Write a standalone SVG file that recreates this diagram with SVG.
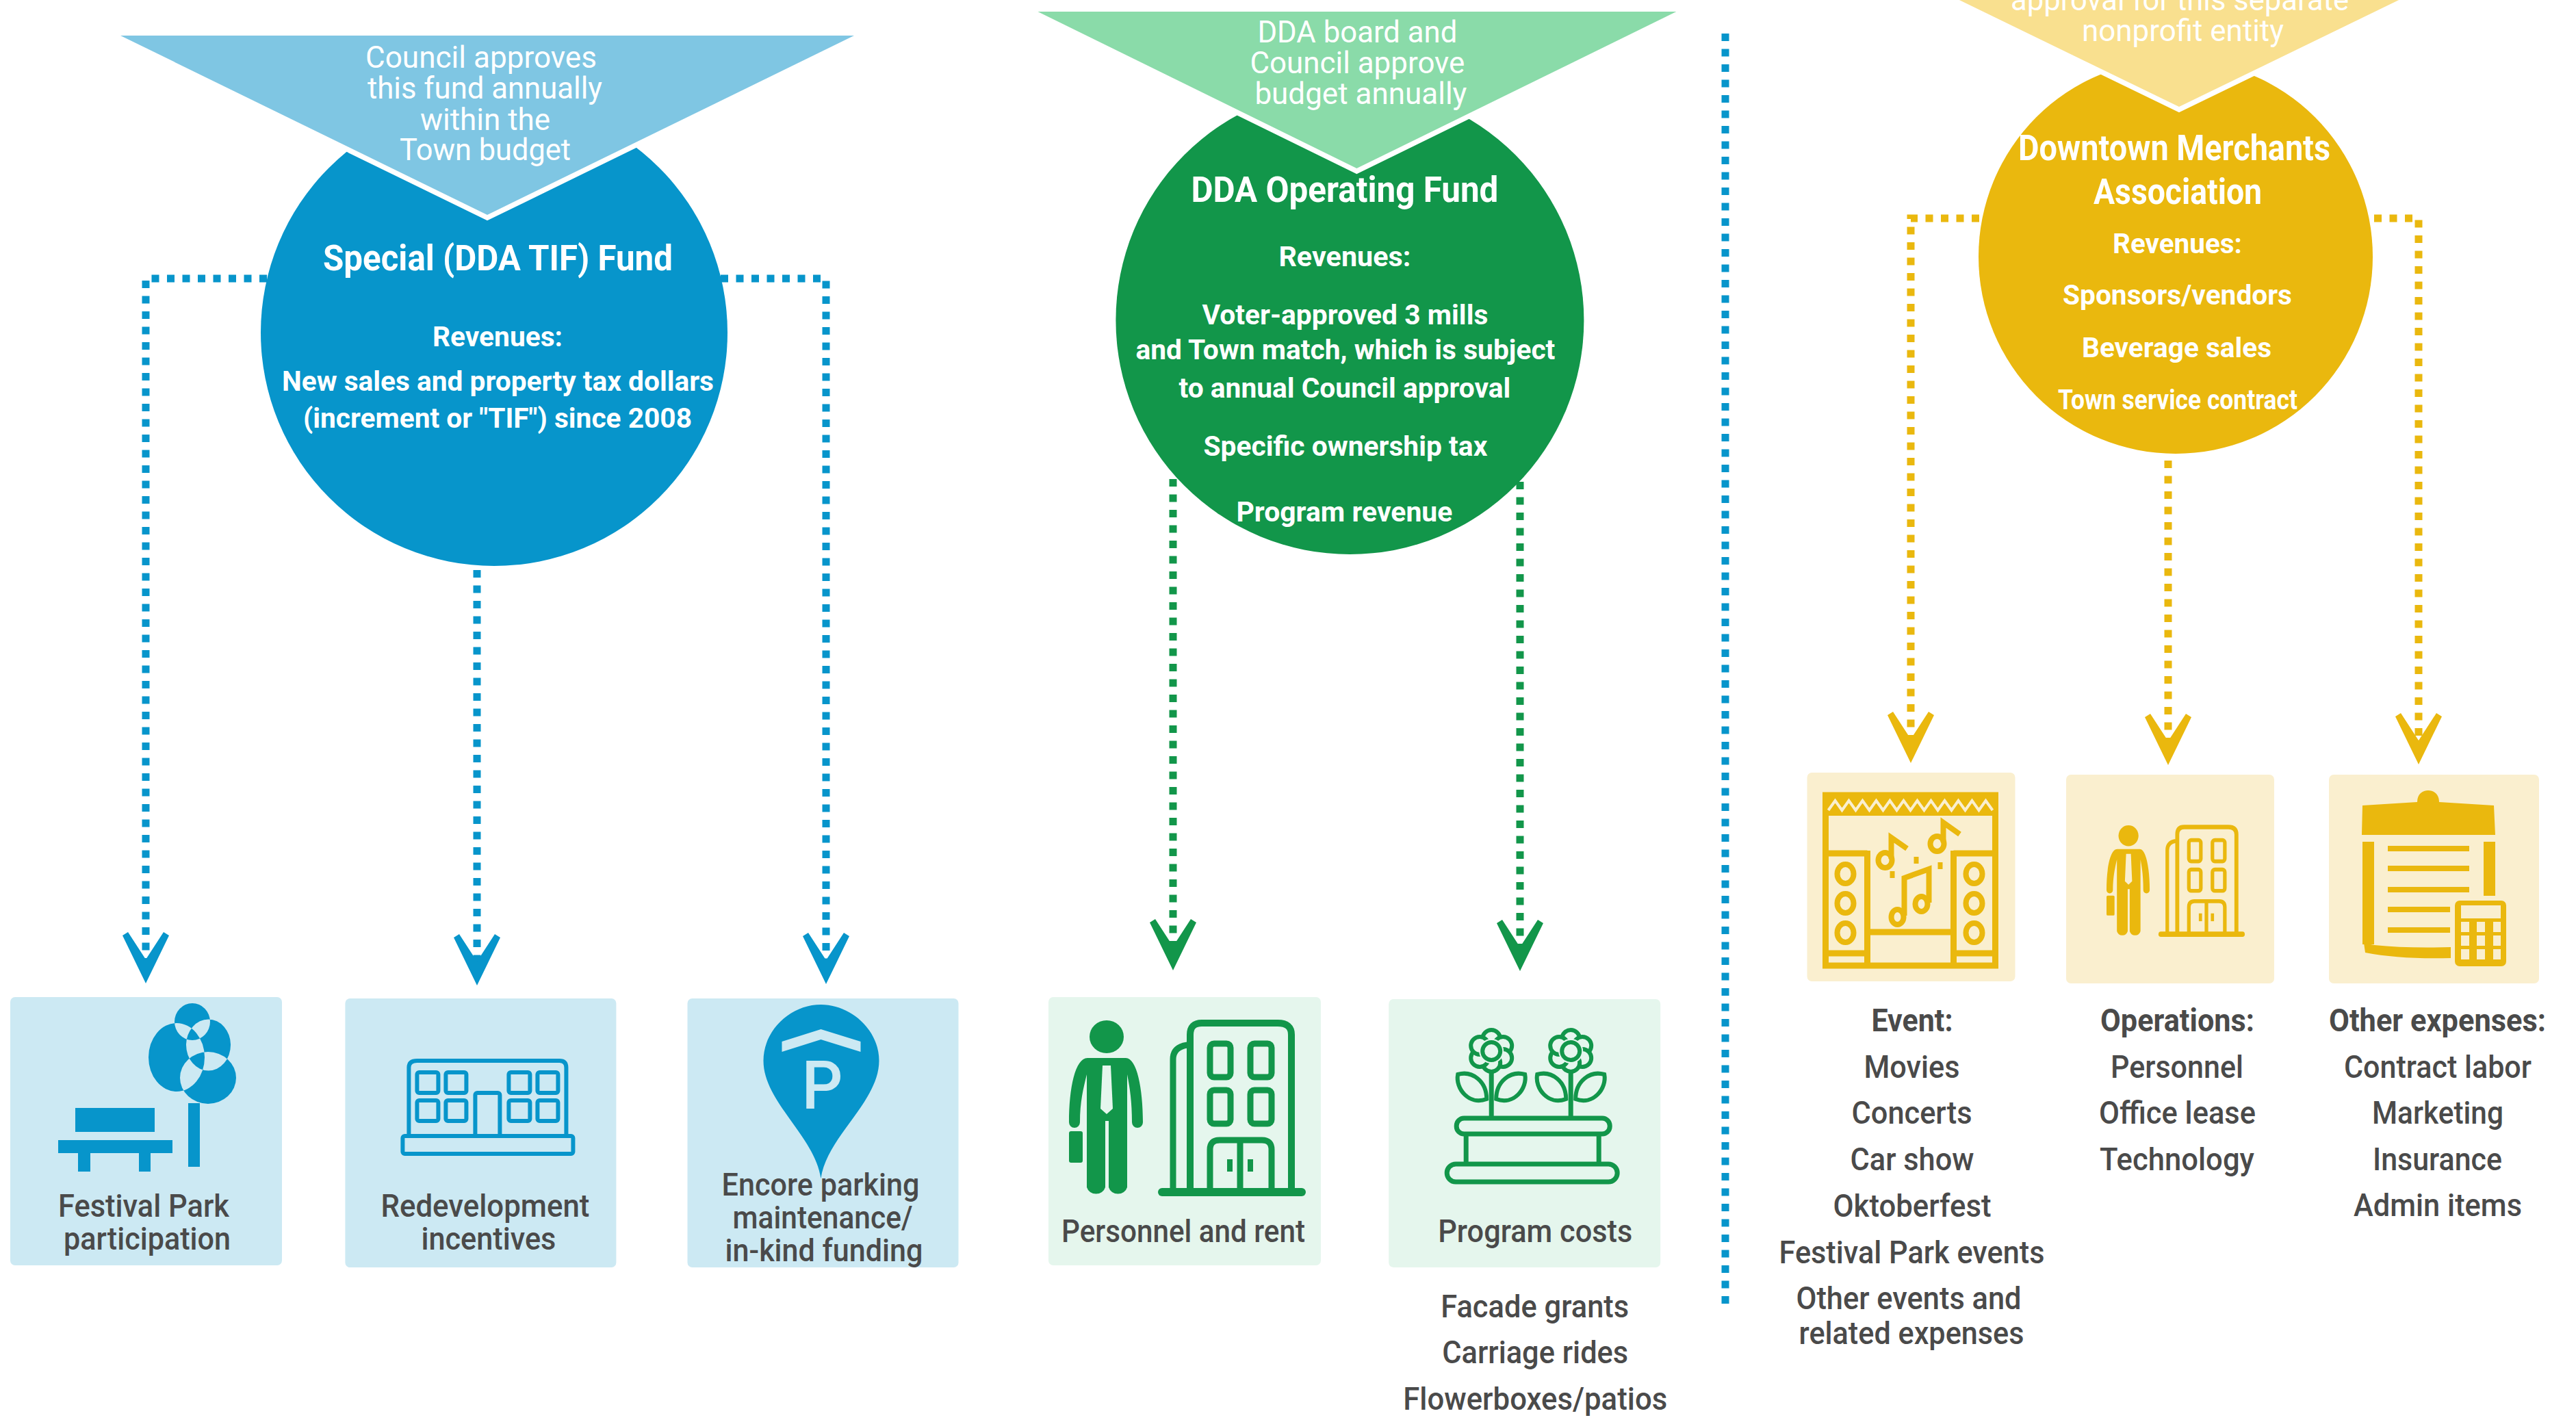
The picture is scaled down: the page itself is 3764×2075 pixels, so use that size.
<svg xmlns="http://www.w3.org/2000/svg" xmlns:xlink="http://www.w3.org/1999/xlink" width="3764" height="2075" viewBox="0 0 3764 2075">
<style>
text{font-family:Roboto,"Liberation Sans",sans-serif;}
.w{fill:#fff;font-size:44px;}
.h{fill:#fff;font-size:51px;font-weight:700;}
.r{fill:#fff;font-size:41px;font-weight:700;}
.d{fill:#4a4a4a;font-size:46px;font-weight:500;}
.b{fill:#4a4a4a;font-size:46px;font-weight:700;}
.c{fill:none;stroke-width:11;stroke-dasharray:11 11.5;}
.blue{stroke:#0795CB;}
.green{stroke:#12964A;}
.gold{stroke:#EAB80E;}
.tri{stroke:#fff;stroke-width:15;paint-order:stroke;stroke-linejoin:miter;stroke-miterlimit:10;}
.ln{fill:none;stroke:currentColor;}
.fl{fill:currentColor;}
</style>
<defs>
<marker id="ah-blue" markerUnits="userSpaceOnUse" markerWidth="110" markerHeight="100" viewBox="-80 -50 110 100" refX="0" refY="0" orient="auto"><polygon points="22,0 -48,-34 -53,-26 -13,0 -53,26 -48,34" fill="#0795CB"/></marker>
<marker id="ah-green" markerUnits="userSpaceOnUse" markerWidth="110" markerHeight="100" viewBox="-80 -50 110 100" refX="0" refY="0" orient="auto"><polygon points="22,0 -48,-34 -53,-26 -13,0 -53,26 -48,34" fill="#12964A"/></marker>
<marker id="ah-gold" markerUnits="userSpaceOnUse" markerWidth="110" markerHeight="100" viewBox="-80 -50 110 100" refX="0" refY="0" orient="auto"><polygon points="22,0 -48,-34 -53,-26 -13,0 -53,26 -48,34" fill="#EAB80E"/></marker>
<g id="person-office">
<ellipse class="fl" cx="1618" cy="1515" rx="25" ry="24"/>
<path class="fl" d="M1590 1546H1646C1662 1546 1671 1590 1671 1640a8 8 0 0 1-16 0C1655 1610 1652 1590 1648 1570V1735a14 13 0 0 1-27 0V1638H1616V1735a14 13 0 0 1-27 0V1570C1584 1590 1579 1610 1579 1640a8 8 0 0 1-16 0C1563 1590 1572 1546 1590 1546Z"/>
<polygon points="1612,1557 1624,1557 1627,1620 1618,1628 1609,1620" style="fill:var(--bg)"/>
<rect class="fl" x="1563" y="1653" width="20" height="46" rx="3"/>
<path class="ln" stroke-width="10" d="M1740 1740V1512Q1740 1495 1757 1495H1868Q1888 1495 1888 1512V1740"/>
<path class="ln" stroke-width="9" d="M1715 1740V1548Q1715 1530 1736 1527"/>
<g class="ln" stroke-width="9"><rect x="1769" y="1525" width="30" height="49" rx="6"/><rect x="1828" y="1525" width="31" height="49" rx="6"/><rect x="1769" y="1593" width="30" height="49" rx="6"/><rect x="1828" y="1593" width="31" height="49" rx="6"/><path d="M1769 1740V1680Q1769 1666 1783 1666H1845Q1859 1666 1859 1680V1740M1813 1666V1740"/></g>
<rect class="fl" x="1794" y="1694" width="8" height="18"/><rect class="fl" x="1824" y="1694" width="8" height="18"/>
<rect class="fl" x="1693" y="1736" width="216" height="12" rx="6"/>
</g>
<g id="flower" fill="#E5F6ED" stroke="#12964A" stroke-width="6">
<path fill="none" stroke-width="7" d="M2183 1560V1631"/>
<path d="M2176 1606C2150 1616 2130 1590 2134 1570C2155 1564 2176 1580 2176 1606Z"/>
<path d="M2190 1606C2216 1616 2236 1590 2232 1570C2211 1564 2190 1580 2190 1606Z"/>
<circle cx="2183" cy="1518" r="13"/><circle cx="2200" cy="1528" r="13"/><circle cx="2200" cy="1546" r="13"/><circle cx="2183" cy="1553" r="13"/><circle cx="2166" cy="1546" r="13"/><circle cx="2166" cy="1528" r="13"/>
<circle cx="2183" cy="1536" r="18" stroke="none"/><circle cx="2183" cy="1536" r="13"/>
</g>
</defs>
<rect width="3764" height="2075" fill="#fff"/>

<g id="connectors">
<path class="c blue" marker-end="url(#ah-blue)" d="M390 407H213V1415"/>
<path class="c blue" d="M697 833V1418" marker-end="url(#ah-blue)"/>
<path class="c blue" marker-end="url(#ah-blue)" d="M1053 407H1207V1416"/>
<path class="c green" d="M1714 700V1396" marker-end="url(#ah-green)"/>
<path class="c green" d="M2221 704V1397" marker-end="url(#ah-green)"/>
<path class="c gold" marker-end="url(#ah-gold)" d="M2892 319H2792V1093"/>
<path class="c gold" d="M3168 673V1096" marker-end="url(#ah-gold)"/>
<path class="c gold" marker-end="url(#ah-gold)" d="M3469 319H3534V1095"/>
<path id="divider" class="c blue" d="M2521 49V1908"/>
</g>

<g id="special-fund" transform="translate(-3 0)">
<circle cx="725" cy="486" r="341" fill="#0795CB"/>
<polygon class="tri" points="179,52 1251,52 715,314" fill="#7FC6E3"/>
<text class="w" x="537" y="99" textLength="338" lengthAdjust="spacingAndGlyphs">Council approves</text>
<text class="w" x="540" y="144" textLength="343" lengthAdjust="spacingAndGlyphs">this fund annually</text>
<text class="w" x="617" y="190" textLength="190" lengthAdjust="spacingAndGlyphs">within the</text>
<text class="w" x="587" y="234" textLength="250" lengthAdjust="spacingAndGlyphs">Town budget</text>
<text class="h" x="475" y="395" textLength="511" lengthAdjust="spacingAndGlyphs">Special (DDA TIF) Fund</text>
<text class="r" x="635" y="506" textLength="190" lengthAdjust="spacingAndGlyphs">Revenues:</text>
<text class="r" x="415" y="571" textLength="631" lengthAdjust="spacingAndGlyphs">New sales and property tax dollars</text>
<text class="r" x="446" y="625" textLength="568" lengthAdjust="spacingAndGlyphs">(increment or "TIF") since 2008</text>
</g>

<g id="festival-park" transform="translate(-1 0)">
<rect x="16" y="1457" width="397" height="392" rx="7" fill="#CCE9F3"/>
<g fill="#0795CB">
<path fill-rule="evenodd" d="M256 1493a26 27 0 1 0 52 0a26 27 0 1 0-52 0ZM218 1545a41 50 0 1 0 82 0a41 50 0 1 0-82 0ZM273 1527a32 37 0 1 0 65 0a32 37 0 1 0-65 0ZM264 1575a41 38 0 1 0 82 0a41 38 0 1 0-82 0Z"/>
<rect x="276" y="1612" width="17" height="93"/>
<rect x="111" y="1619" width="116" height="35"/>
<rect x="86" y="1666" width="167" height="19"/>
<rect x="115" y="1685" width="18" height="27"/>
<rect x="204" y="1685" width="17" height="27"/>
</g>
<text class="d" x="86" y="1778" textLength="250" lengthAdjust="spacingAndGlyphs">Festival Park</text>
<text class="d" x="94" y="1826" textLength="244" lengthAdjust="spacingAndGlyphs">participation</text>
</g>

<g id="redevelopment" transform="translate(-2.6 0)">
<rect x="507" y="1459" width="396" height="393" rx="7" fill="#CCE9F3"/>
<g fill="none" stroke="#0795CB" stroke-width="6">
<path d="M600 1660V1560Q600 1550 612 1550H820Q830 1550 830 1560V1660"/>
<rect x="591" y="1660" width="249" height="26" rx="3"/>
<rect x="697" y="1597" width="36" height="63" rx="3"/>
<rect x="612" y="1567" width="31" height="30" rx="3"/><rect x="654" y="1567" width="30" height="30" rx="3"/><rect x="746" y="1567" width="31" height="30" rx="3"/><rect x="788" y="1567" width="30" height="30" rx="3"/>
<rect x="612" y="1608" width="31" height="30" rx="3"/><rect x="654" y="1608" width="30" height="30" rx="3"/><rect x="746" y="1608" width="31" height="30" rx="3"/><rect x="788" y="1608" width="30" height="30" rx="3"/>
</g>
<text class="d" x="559" y="1778" textLength="305" lengthAdjust="spacingAndGlyphs">Redevelopment</text>
<text class="d" x="618" y="1826" textLength="197" lengthAdjust="spacingAndGlyphs">incentives</text>
</g>

<g id="encore-parking" transform="translate(-4.5 0)">
<rect x="1009" y="1459" width="396" height="393" rx="7" fill="#CCE9F3"/>
<path d="M1204 1722C1195 1660 1120 1610 1120 1550C1120 1505 1160 1468 1204 1468C1248 1468 1289 1505 1289 1550C1289 1610 1213 1660 1204 1722Z" fill="#0795CB"/>
<polygon points="1147,1522 1204,1504 1262,1522 1262,1537 1204,1519 1147,1537" fill="#CCE9F3"/>
<text x="1176" y="1620" font-size="98" font-weight="500" fill="#CCE9F3" textLength="60" lengthAdjust="spacingAndGlyphs">P</text>
<text class="d" x="1059" y="1747" textLength="289" lengthAdjust="spacingAndGlyphs">Encore parking</text>
<text class="d" x="1075" y="1795" textLength="263" lengthAdjust="spacingAndGlyphs">maintenance/</text>
<text class="d" x="1064" y="1843" textLength="289" lengthAdjust="spacingAndGlyphs">in-kind funding</text>
</g>

<g id="operating-fund" transform="translate(-2.6 0)">
<circle cx="1975" cy="468" r="342" fill="#12964A"/>
<polygon class="tri" points="1519,17 2452,17 1985,246" fill="#8ADBA9"/>
<text class="w" x="1840" y="62" textLength="292" lengthAdjust="spacingAndGlyphs">DDA board and</text>
<text class="w" x="1829" y="107" textLength="314" lengthAdjust="spacingAndGlyphs">Council approve</text>
<text class="w" x="1836" y="152" textLength="310" lengthAdjust="spacingAndGlyphs">budget annually</text>
<text class="h" x="1743" y="295" textLength="449" lengthAdjust="spacingAndGlyphs">DDA Operating Fund</text>
<text class="r" x="1871" y="389" textLength="193" lengthAdjust="spacingAndGlyphs">Revenues:</text>
<text class="r" x="1759" y="474" textLength="418" lengthAdjust="spacingAndGlyphs">Voter-approved 3 mills</text>
<text class="r" x="1662" y="525" textLength="613" lengthAdjust="spacingAndGlyphs">and Town match, which is subject</text>
<text class="r" x="1725" y="581" textLength="485" lengthAdjust="spacingAndGlyphs">to annual Council approval</text>
<text class="r" x="1761" y="666" textLength="415" lengthAdjust="spacingAndGlyphs">Specific ownership tax</text>
<text class="r" x="1809" y="762" textLength="316" lengthAdjust="spacingAndGlyphs">Program revenue</text>
</g>

<g id="personnel-rent" transform="translate(-1 0)">
<rect x="1533" y="1457" width="398" height="392" rx="7" fill="#E5F6ED"/>
<use xlink:href="#person-office" href="#person-office" style="color:#12964A;--bg:#E5F6ED"/>
<text class="d" x="1552" y="1815" textLength="356" lengthAdjust="spacingAndGlyphs">Personnel and rent</text>
</g>

<g id="program-costs" transform="translate(-3.8 0)">
<rect x="2033" y="1460" width="397" height="392" rx="7" fill="#E5F6ED"/>
<use xlink:href="#flower" href="#flower"/>
<use xlink:href="#flower" href="#flower" x="116"/>
<g fill="none" stroke="#12964A" stroke-width="7">
<rect x="2132" y="1634" width="224" height="23" rx="11"/>
<path d="M2146 1657V1698M2340 1657V1698"/>
<rect x="2118" y="1701" width="249" height="26" rx="13"/>
</g>
<text class="d" x="2105" y="1815" textLength="284" lengthAdjust="spacingAndGlyphs">Program costs</text>
<text class="d" x="2109" y="1925" textLength="275" lengthAdjust="spacingAndGlyphs">Facade grants</text>
<text class="d" x="2111" y="1992" textLength="272" lengthAdjust="spacingAndGlyphs">Carriage rides</text>
<text class="d" x="2054" y="2060" textLength="386" lengthAdjust="spacingAndGlyphs">Flowerboxes/patios</text>
</g>

<g id="merchants-association" transform="translate(-1 0)">
<circle cx="3180" cy="375" r="288" fill="#EAB80E"/>
<polygon class="tri" points="2658,-100 3712,-100 3185,156" fill="#F9E08F"/>
<text class="w" x="2939" y="15" textLength="494" lengthAdjust="spacingAndGlyphs">approval for this separate</text>
<text class="w" x="3043" y="60" textLength="295" lengthAdjust="spacingAndGlyphs">nonprofit entity</text>
<text class="h" x="2950" y="234" textLength="456" lengthAdjust="spacingAndGlyphs">Downtown Merchants</text>
<text class="h" x="3060" y="298" textLength="246" lengthAdjust="spacingAndGlyphs">Association</text>
<text class="r" x="3088" y="370" textLength="189" lengthAdjust="spacingAndGlyphs">Revenues:</text>
<text class="r" x="3015" y="445" textLength="335" lengthAdjust="spacingAndGlyphs">Sponsors/vendors</text>
<text class="r" x="3043" y="522" textLength="277" lengthAdjust="spacingAndGlyphs">Beverage sales</text>
<text class="r" x="3008" y="598" textLength="350" lengthAdjust="spacingAndGlyphs">Town service contract</text>
</g>

<g id="event" transform="translate(-0.5 0)">
<rect x="2641" y="1129" width="304" height="305" rx="7" fill="#FAEFCF"/>
<g fill="none" stroke="#EAB80E" stroke-width="9">
<rect x="2668" y="1162" width="248" height="249"/>
<path d="M2729 1243V1412M2855 1243V1412M2668 1247H2729M2855 1247H2916M2668 1393H2729M2855 1393H2916M2729 1362H2855"/>
<g stroke-width="8"><ellipse cx="2697" cy="1277" rx="12" ry="14"/><ellipse cx="2697" cy="1320" rx="12" ry="14"/><ellipse cx="2697" cy="1363" rx="12" ry="14"/><ellipse cx="2885" cy="1277" rx="12" ry="14"/><ellipse cx="2885" cy="1320" rx="12" ry="14"/><ellipse cx="2885" cy="1363" rx="12" ry="14"/>
<ellipse cx="2755" cy="1257" rx="10" ry="11"/><ellipse cx="2831" cy="1233" rx="10" ry="11"/><ellipse cx="2773" cy="1340" rx="9" ry="11"/><ellipse cx="2808" cy="1321" rx="9" ry="11"/>
<path d="M2764 1255V1224L2787 1240M2840 1231V1202L2864 1219M2783 1338V1283L2819 1270V1319"/></g>
</g>
<rect x="2664" y="1158" width="256" height="34" fill="#EAB80E"/>
<polyline points="2672,1184 2682,1170 2692,1184 2702,1170 2712,1184 2722,1170 2732,1184 2742,1170 2752,1184 2762,1170 2772,1184 2782,1170 2792,1184 2802,1170 2812,1184 2822,1170 2832,1184 2842,1170 2852,1184 2862,1170 2872,1184 2882,1170 2892,1184 2902,1170 2912,1184" fill="none" stroke="#FAEFCF" stroke-width="4"/>
<g fill="#EAB80E"><rect x="2797" y="1252" width="7" height="10"/><rect x="2762" y="1273" width="7" height="10"/><rect x="2832" y="1260" width="7" height="10"/><rect x="2664" y="1407" width="256" height="8"/></g>
<text class="b" x="2735" y="1507" textLength="119" lengthAdjust="spacingAndGlyphs">Event:</text>
<text class="d" x="2724" y="1575" textLength="140" lengthAdjust="spacingAndGlyphs">Movies</text>
<text class="d" x="2706" y="1642" textLength="176" lengthAdjust="spacingAndGlyphs">Concerts</text>
<text class="d" x="2704" y="1710" textLength="181" lengthAdjust="spacingAndGlyphs">Car show</text>
<text class="d" x="2679" y="1778" textLength="231" lengthAdjust="spacingAndGlyphs">Oktoberfest</text>
<text class="d" x="2600" y="1846" textLength="388" lengthAdjust="spacingAndGlyphs">Festival Park events</text>
<text class="d" x="2625" y="1913" textLength="329" lengthAdjust="spacingAndGlyphs">Other events and</text>
<text class="d" x="2629" y="1964" textLength="329" lengthAdjust="spacingAndGlyphs">related expenses</text>
</g>

<g id="operations" transform="translate(-1 0)">
<rect x="3020" y="1132" width="304" height="305" rx="7" fill="#FAEFCF"/>
<use xlink:href="#person-office" href="#person-office" transform="translate(3079 1206) scale(0.584 0.634) translate(-1563 -1491)" style="color:#EAB80E;--bg:#FAEFCF"/>
<text class="b" x="3070" y="1507" textLength="225" lengthAdjust="spacingAndGlyphs">Operations:</text>
<text class="d" x="3085" y="1575" textLength="194" lengthAdjust="spacingAndGlyphs">Personnel</text>
<text class="d" x="3068" y="1642" textLength="229" lengthAdjust="spacingAndGlyphs">Office lease</text>
<text class="d" x="3069" y="1710" textLength="226" lengthAdjust="spacingAndGlyphs">Technology</text>
</g>

<g id="other-expenses" transform="translate(-2 0)">
<rect x="3405" y="1132" width="307" height="305" rx="7" fill="#FAEFCF"/>
<g fill="#EAB80E">
<path d="M3454 1177L3534 1172C3534 1160 3542 1155 3550 1155C3558 1155 3566 1160 3566 1172L3646 1177L3648 1220H3453Z"/>
<rect x="3454" y="1230" width="17" height="150"/>
<path d="M3456 1378L3471 1381Q3520 1386 3583 1384V1400Q3510 1402 3458 1392Z"/>
<rect x="3631" y="1230" width="17" height="79"/>
<rect x="3491" y="1236" width="119" height="8"/><rect x="3491" y="1265" width="119" height="8"/><rect x="3491" y="1296" width="119" height="8"/>
<rect x="3491" y="1325" width="91" height="8"/><rect x="3491" y="1355" width="91" height="8"/>
<rect x="3589" y="1316" width="75" height="96" rx="7"/>
</g>
<g fill="#FAEFCF">
<rect x="3598" y="1323" width="58" height="19"/>
<rect x="3598" y="1347" width="12" height="15"/><rect x="3621" y="1347" width="12" height="15"/><rect x="3645" y="1347" width="11" height="15"/>
<rect x="3598" y="1367" width="12" height="15"/><rect x="3621" y="1367" width="12" height="15"/><rect x="3645" y="1367" width="11" height="15"/>
<rect x="3598" y="1387" width="12" height="15"/><rect x="3621" y="1387" width="12" height="15"/><rect x="3645" y="1387" width="11" height="15"/>
</g>
<text class="b" x="3405" y="1507" textLength="317" lengthAdjust="spacingAndGlyphs">Other expenses:</text>
<text class="d" x="3427" y="1575" textLength="274" lengthAdjust="spacingAndGlyphs">Contract labor</text>
<text class="d" x="3468" y="1642" textLength="192" lengthAdjust="spacingAndGlyphs">Marketing</text>
<text class="d" x="3469" y="1710" textLength="189" lengthAdjust="spacingAndGlyphs">Insurance</text>
<text class="d" x="3441" y="1777" textLength="246" lengthAdjust="spacingAndGlyphs">Admin items</text>
</g>
</svg>
